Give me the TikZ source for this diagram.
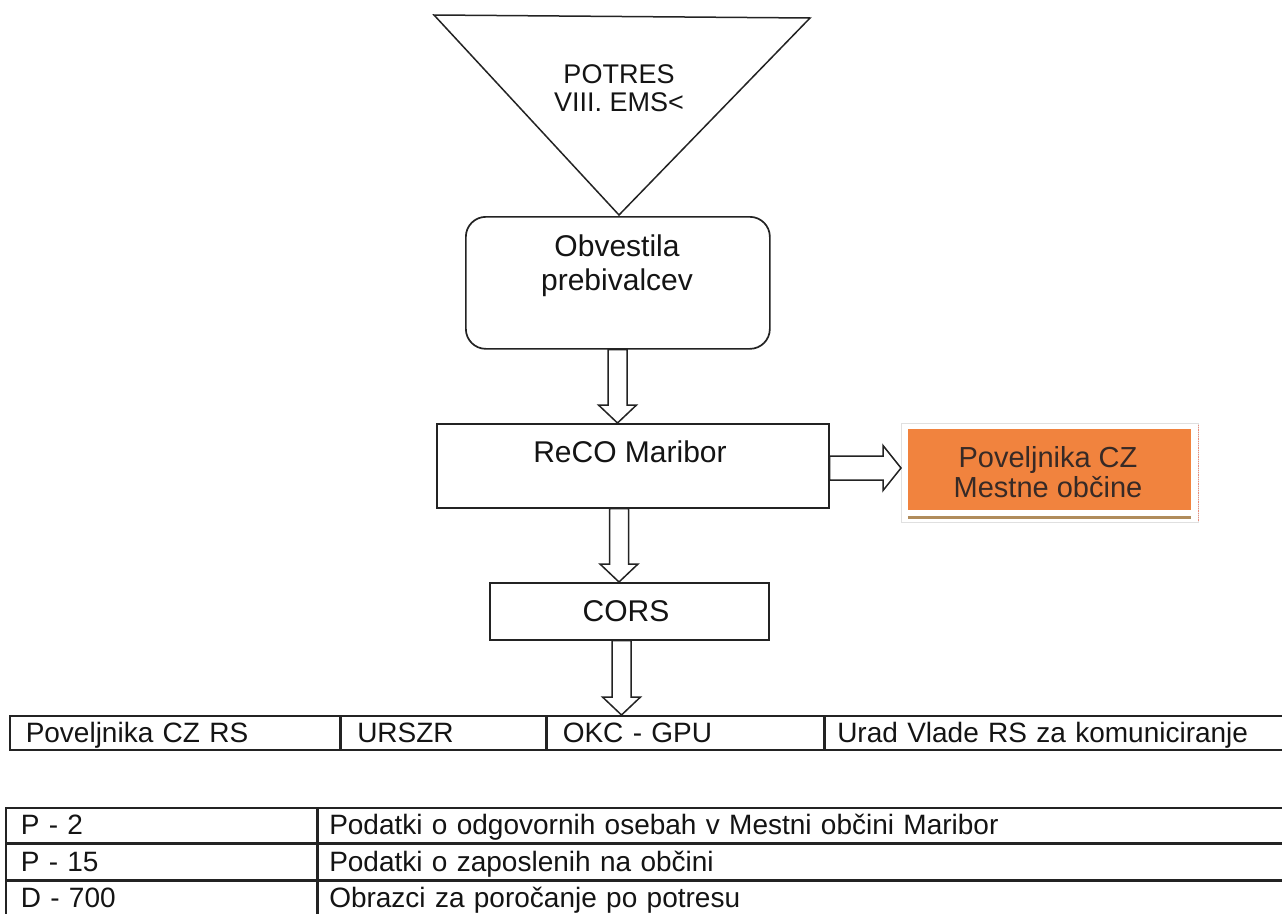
\documentclass[tikz,border=0pt]{standalone}
\usepackage{fontspec}
\setmainfont{Liberation Sans}
\usetikzlibrary{calc}
\definecolor{ink}{RGB}{35,35,35}
\definecolor{orng}{RGB}{241,131,62}
\definecolor{tanline}{RGB}{176,140,92}
\definecolor{ortext}{RGB}{55,42,38}
\newcommand{\fBox}{\fontsize{30}{34}\selectfont}
\newcommand{\fTri}{\fontsize{27}{28}\selectfont}
\newcommand{\fOr}{\fontsize{29}{30}\selectfont}
\newcommand{\fTab}{\fontsize{28}{32}\selectfont}
\tikzset{
  boxst/.style={draw=ink, line width=1.7pt, inner sep=0pt, anchor=north west},
  txt/.style={align=center, text=black!92, inner sep=0pt},
  hollow/.style={draw=ink, fill=white, line width=1.5pt, line join=miter},
  cell/.style={draw=ink, line width=1.5pt, anchor=north west, inner xsep=16pt,
    inner ysep=0pt, minimum height=34pt, text width=#1, align=left, font=\fTab,
    text height=21pt, text depth=2pt, text=black!92},
}
\newcommand{\hdown}[3]{\draw[hollow] let \p1=(#1), \p2=(#2) in
  ({#3-9.5pt},\y1) -- ({#3+9.5pt},\y1) -- ({#3+9.5pt},{\y2+18pt}) -- ({#3+19pt},{\y2+18pt})
  -- (#3,\y2) -- ({#3-19pt},{\y2+18pt}) -- ({#3-9.5pt},{\y2+18pt}) -- cycle;}
\newcommand{\hright}[3]{\draw[hollow] let \p1=(#1), \p2=(#2) in
  (\x1,{#3+12pt}) -- ({\x2-18pt},{#3+12pt}) -- ({\x2-18pt},{#3+22.5pt}) -- (\x2,#3)
  -- ({\x2-18pt},{#3-22.5pt}) -- ({\x2-18pt},{#3-12pt}) -- (\x1,{#3-12pt}) -- cycle;}
\begin{document}
\begin{tikzpicture}[x=1pt,y=-1pt]
\useasboundingbox (0,0) rectangle (1282,913);
\fill[white] (0,0) rectangle (1282,913);

% triangle
\coordinate (tl) at (434,15);
\coordinate (tr) at (810,18);
\coordinate (tb) at (619,215);
\draw[ink, line width=1.5pt, line join=miter] (tl) -- (tr) -- (tb) -- cycle;
\node[txt, font=\fTri] (potres) at (619,88) {POTRES\\VIII. EMS<};

% boxes
\node[boxst, rounded corners=20pt, minimum width=304pt, minimum height=132pt] (obv) at (465,216) {};
\node[txt, font=\fBox] (obvt) at (617,266) {Obvestila\\prebivalcev};

\node[boxst, minimum width=392pt, minimum height=84pt] (reco) at (436,423) {};
\node[txt, font=\fBox] (recot) at (630,452) {ReCO Maribor};

\node[boxst, minimum width=279pt, minimum height=57pt] (cors) at (489,582) {};
\node[txt, font=\fBox] (corst) at (626,611) {CORS};

% orange box
\node[draw=black!12, line width=1pt, inner sep=0pt, anchor=north west,
      minimum width=297pt, minimum height=99pt] (pov) at (901,423) {};
\fill[orng] (908,429) rectangle (1191,510);
\draw[tanline, line width=3pt] (908,517) -- (1191,517);
\draw[red!50!brown!60, densely dotted, line width=0.8pt] (1198,425) -- (1198,521);
\node[txt, font=\fOr, text=ortext] (povt) at (1048,472) {Poveljnika CZ\\Mestne občine};

% top table
\node[cell=298pt] (t1) at (9,715) {Poveljnika CZ RS};
\node[cell=172pt] (t2) at (t1.north east) {URSZR};
\node[cell=245pt] (t3) at (t2.north east) {OKC - GPU};
\node[cell=448pt, inner xsep=12pt] (t4) at (t3.north east) {Urad Vlade RS za komuniciranje};

% bottom table
\node[cell=281pt, minimum height=35pt, inner xsep=15pt] (r1a) at (5,807) {P - 2};
\node[cell=950pt, minimum height=35pt, inner xsep=11pt] (r1b) at (r1a.north east) {Podatki o odgovornih osebah v Mestni občini Maribor};
\node[cell=281pt, minimum height=35pt, inner xsep=15pt] (r2a) at (r1a.south west) {P - 15};
\node[cell=950pt, minimum height=35pt, inner xsep=11pt] (r2b) at (r2a.north east) {Podatki o zaposlenih na občini};
\node[cell=281pt, minimum height=35pt, inner xsep=15pt] (r3a) at (r2a.south west) {D - 700};
\node[cell=950pt, minimum height=35pt, inner xsep=11pt] (r3b) at (r3a.north east) {Obrazci za poročanje po potresu};

% hollow arrows
\hdown{obv.south}{reco.north}{617.5pt}
\hdown{reco.south}{cors.north}{619pt}
\hdown{cors.south}{t3.north}{621.5pt}
\hright{reco.east}{pov.west}{-468pt}
\end{tikzpicture}
\end{document}
